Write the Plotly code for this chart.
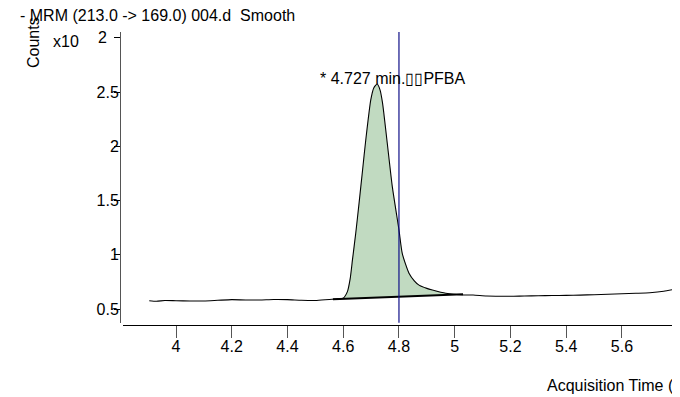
import plotly.graph_objects as go

# ---- data (y in units of x10^2 counts) ----
trace_t = [3.904, 3.93, 3.96, 4.0, 4.05, 4.1, 4.15, 4.2, 4.25, 4.3, 4.35, 4.4, 4.45, 4.5,
           4.55, 4.58, 4.60, 4.615, 4.625, 4.633, 4.645, 4.657, 4.669, 4.681, 4.699,
           4.71, 4.722, 4.732, 4.741, 4.758, 4.776, 4.80, 4.812, 4.836, 4.855, 4.872,
           4.90, 4.92, 4.968, 5.027, 5.066, 5.115, 5.2, 5.25, 5.3, 5.35, 5.4, 5.45,
           5.5, 5.55, 5.6, 5.65, 5.7, 5.75, 5.79]
trace_v = [0.576, 0.571, 0.578, 0.576, 0.574, 0.574, 0.580, 0.586, 0.583, 0.583, 0.587,
           0.586, 0.580, 0.578, 0.588, 0.593, 0.60, 0.66, 0.78, 0.95, 1.20, 1.48, 1.77,
           2.06, 2.43, 2.54, 2.574, 2.52, 2.40, 2.03, 1.63, 1.23, 1.01, 0.83, 0.76,
           0.72, 0.69, 0.675, 0.645, 0.629, 0.629, 0.620, 0.617, 0.620, 0.622, 0.624,
           0.626, 0.628, 0.632, 0.636, 0.641, 0.645, 0.650, 0.663, 0.682]

baseline_t = [4.563, 5.03]
baseline_v = [0.589, 0.635]

peak_label = "* 4.727 min.\u25af\u25afPFBA"
peak_label_t = 4.777
peak_label_v = 2.62
marker_t = 4.8

y_tickvals = [0.5, 1, 1.5, 2, 2.5, 3.0]
y_ticktext = ["0.5", "1", "1.5", "2", "2.5", ""]
x_tickvals = [4, 4.2, 4.4, 4.6, 4.8, 5, 5.2, 5.4, 5.6]
x_ticktext = ["4", "4.2", "4.4", "4.6", "4.8", "5", "5.2", "5.4", "5.6"]

FONT = "Arial, Liberation Sans, sans-serif"
FS = 16

# integrated region polygon: peak segment + baseline back
peak_t = [t for t in trace_t if baseline_t[0] <= t <= baseline_t[1]]
peak_v = [v for t, v in zip(trace_t, trace_v) if baseline_t[0] <= t <= baseline_t[1]]
fill_t = [baseline_t[0]] + peak_t + [baseline_t[1], baseline_t[0]]
fill_v = [baseline_v[0]] + peak_v + [baseline_v[1], baseline_v[0]]

# page has an 8px body margin: work in page pixels, convert to figure pixels
OFF = 8
W, H = 680 - OFF, 397 - OFF
L, R, T, B = 120 - OFF, 0, 32 - OFF, 72
pw, ph = W - L - R, H - T - B


def px(xp):
    return (xp - OFF - L) / pw


def py(yp):
    return (H - B - (yp - OFF)) / ph


fig = go.Figure()
fig.add_trace(go.Scatter(x=fill_t, y=fill_v, mode="lines", fill="toself",
                         fillcolor="#c1dac1", line=dict(width=0), hoverinfo="skip"))
fig.add_trace(go.Scatter(x=trace_t, y=trace_v, mode="lines",
                         line=dict(color="black", width=1.1, shape="spline", smoothing=0.6)))
fig.add_trace(go.Scatter(x=baseline_t, y=baseline_v, mode="lines",
                         line=dict(color="black", width=2)))

fig.add_shape(type="line", xref="x", yref="y domain", x0=marker_t, x1=marker_t, y0=0, y1=1,
              line=dict(color="#101088", width=1.2))

fig.add_annotation(x=peak_label_t, y=peak_label_v, xref="x", yref="y", text=peak_label,
                   showarrow=False, xanchor="center", yanchor="middle",
                   font=dict(family=FONT, size=FS, color="black"))

header = [
    ("- MRM (213.0 -> 169.0) 004.d&nbsp; Smooth", 18, 15, 0, "left"),
    ("Counts", 33, 43, -90, "center"),
    ("x10", 51, 42, 0, "left"),
    ("2", 96, 37, 0, "left"),
    ("Acquisition Time (min)", 545, 385, 0, "left"),
]
for text, xp, yp, ang, anc in header:
    fig.add_annotation(text=text, x=px(xp), y=py(yp), xref="paper", yref="paper",
                       textangle=ang, showarrow=False, xanchor=anc, yanchor="middle",
                       font=dict(family=FONT, size=FS, color="black"))

x_dom0 = 2.7 / pw
y_dom0 = 2.3 / ph
x_left = 4 - (176 - 122.7) / 278.7
x_right = 4 + (680 - 176) / 278.7
y_bot = 0.5 - (322.7 - 309) / 108.5
y_top = 0.5 + (309 - 32) / 108.5

fig.update_layout(
    width=W, height=H, margin=dict(l=L, r=R, t=T, b=B),
    paper_bgcolor="white", plot_bgcolor="white", showlegend=False,
    font=dict(family=FONT, size=FS, color="black"),
    xaxis=dict(domain=[x_dom0, 1], range=[x_left, x_right], anchor="free", position=0,
               showgrid=False, zeroline=False, showline=True, linecolor="black", linewidth=1,
               ticks="outside", ticklen=12, tickcolor="#555", tickwidth=1,
               tickvals=x_tickvals, ticktext=x_ticktext, tickfont=dict(size=FS),
               ticklabelstandoff=-5),
    yaxis=dict(domain=[y_dom0, 1], range=[y_bot, y_top], anchor="free", position=0,
               showgrid=False, zeroline=False, showline=True, linecolor="#555", linewidth=1,
               ticks="outside", ticklen=6, tickcolor="black", tickwidth=1,
               tickvals=y_tickvals, ticktext=y_ticktext, tickfont=dict(size=FS),
               ticklabelstandoff=-8),
)

fig.write_html("out.html")
